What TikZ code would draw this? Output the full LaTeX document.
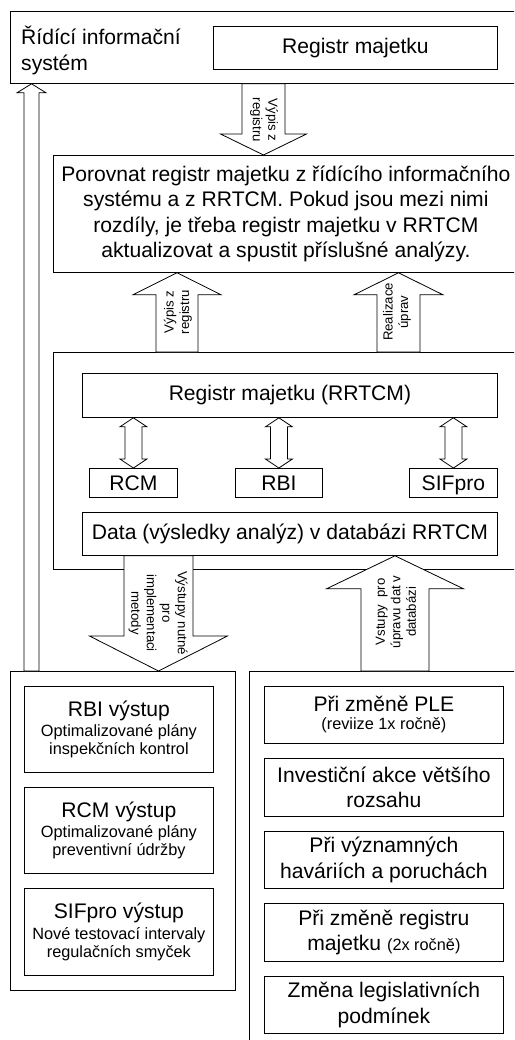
\documentclass[tikz,border=0pt]{standalone}
\usepackage{fontspec}
\setmainfont{Liberation Sans}
\usetikzlibrary{calc}

\newcommand\bigf{\fontsize{21.1}{25.5}\selectfont}
\newcommand\smallf{\fontsize{16.3}{18}\selectfont}
\newcommand\tinyf{\fontsize{13.2}{15.5}\selectfont}

% block arrow: start point, tip point, shaft half width, head half width, head length
\newcommand\blockarrow[5]{%
  \draw[blk] let \p1=(#1), \p2=(#2), \n1={ifthenelse(\y2>\y1,1,-1)} in
    (\x1-#3,\y1) -- (\x1-#3,\y2-\n1*#5) -- (\x1-#4,\y2-\n1*#5) -- (\x1,\y2)
    -- (\x1+#4,\y2-\n1*#5) -- (\x1+#3,\y2-\n1*#5) -- (\x1+#3,\y1) -- cycle;}

% two-headed block arrow: upper point, lower point, shaft half width, head half width, head length
\newcommand\dblarrow[5]{%
  \draw[blk] let \p1=(#1), \p2=(#2) in
    (\x1,\y1) -- (\x1+#4,\y1-#5) -- (\x1+#3,\y1-#5) -- (\x1+#3,\y2+#5)
    -- (\x1+#4,\y2+#5) -- (\x1,\y2) -- (\x1-#4,\y2+#5) -- (\x1-#3,\y2+#5)
    -- (\x1-#3,\y1-#5) -- (\x1-#4,\y1-#5) -- cycle;}

\begin{document}
\begin{tikzpicture}[x=1pt,y=-1pt,
  frame/.style={draw, line width=0.8pt, inner sep=0pt, anchor=north west},
  box/.style={draw, fill=white, line width=0.8pt, inner sep=0pt, anchor=north west, align=center, font=\bigf},
  sbox/.style={box, font=\smallf},
  blk/.style={draw, fill=white, line width=0.8pt, line join=miter},
  lbl/.style={inner sep=0pt, align=center, font=\tinyf}]
\useasboundingbox (0,0) rectangle (514,1040);
\fill[white] (0,0) rectangle (514,1040);
\begin{scope}
\clip (0,0) rectangle (514,1040);

% outer frames
\node[frame, minimum width=530pt, minimum height=72pt] (ris) at (10,11) {};
\node[font=\bigf, align=left, anchor=north west, inner sep=0pt] (risl) at (21,26) {Řídící informační\\systém};
\node[box, minimum width=284pt, minimum height=43pt] (reg) at (213,26) {Registr majetku};

\node[box, minimum width=465pt, minimum height=117pt] (cmp) at (53,155)
  {Porovnat registr majetku z řídícího informačního\\ systému a z RRTCM. Pokud jsou mezi nimi\\ rozdíly, je třeba registr majetku v RRTCM\\ aktualizovat a spustit příslušné analýzy.};

\node[frame, minimum width=490pt, minimum height=217pt] (mid) at (53,352) {};
\node[box, minimum width=415pt, minimum height=44pt] (regr) at (82,373) {Registr majetku (RRTCM)};
\node[box, minimum width=88pt, minimum height=29pt, text depth=0pt] (rcm) at (89,468) {RCM};
\node[box, minimum width=87pt, minimum height=29pt, text depth=0pt] (rbi) at (235,468) {RBI};
\node[box, minimum width=88pt, minimum height=29pt, text depth=0pt] (sif) at (409,468) {SIFpro};
\node[box, minimum width=415pt, minimum height=43pt] (data) at (82,512) {Data (výsledky analýz) v databázi RRTCM};

\node[frame, minimum width=225pt, minimum height=319pt] (outs) at (10,671) {};
\node[frame, minimum width=300pt, minimum height=400pt] (ins) at (249,671) {};

% outputs of the analyses
\node[sbox, minimum width=189pt, minimum height=86pt] (o1) at (24,686)
  {{\bigf RBI výstup}\\[2.7pt] Optimalizované plány\\ inspekčních kontrol};
\node[sbox, minimum width=189pt, minimum height=86pt] (o2) at (24,787)
  {{\bigf RCM výstup}\\[2.7pt] Optimalizované plány\\ preventivní údržby};
\node[sbox, minimum width=189pt, minimum height=87pt] (o3) at (24,888)
  {{\bigf SIFpro výstup}\\[2.7pt] Nové testovací intervaly\\ regulačních smyček};

% triggers for updating the database
\node[sbox, minimum width=239pt, minimum height=57pt] (i1) at (264,686)
  {{\bigf Při změně PLE}\\ (reviize 1x ročně)};
\node[box, minimum width=239pt, minimum height=58pt] (i2) at (264,758)
  {Investiční akce většího\\ rozsahu};
\node[box, minimum width=239pt, minimum height=57pt] (i3) at (264,831)
  {Při významných\\ haváriích a poruchách};
\node[box, minimum width=239pt, minimum height=58pt] (i4) at (264,903)
  {Při změně registru\\ majetku {\smallf (2x ročně)}};
\node[box, minimum width=239pt, minimum height=57pt] (i5) at (264,976)
  {Změna legislativních\\ podmínek};

% arrow axes
\coordinate (axL) at (31.5,0);
\coordinate (axA) at (263.5,0);
\coordinate (axB) at (177,0);
\coordinate (axC) at (398.5,0);
\coordinate (axD) at (158.5,0);
\coordinate (axE) at (395,0);

% block arrows
\blockarrow{axL |- outs.north}{axL |- ris.south}{7.5pt}{14.5pt}{9pt}
\blockarrow{axA |- ris.south}{axA |- cmp.north}{21.5pt}{43pt}{21pt}
\blockarrow{axB |- mid.north}{axB |- cmp.south}{21pt}{44pt}{22pt}
\blockarrow{axC |- mid.north}{axC |- cmp.south}{21.5pt}{44.5pt}{22pt}
\blockarrow{axD |- data.south}{axD |- outs.north}{34.5pt}{69pt}{35pt}
\blockarrow{axE |- ins.north}{axE |- data.south}{34pt}{68.5pt}{33pt}

\dblarrow{rcm.north |- regr.south}{rcm.north}{8.5pt}{13.5pt}{9pt}
\dblarrow{rbi.north |- regr.south}{rbi.north}{8.5pt}{13.5pt}{9pt}
\dblarrow{sif.north |- regr.south}{sif.north}{8.5pt}{13.5pt}{9pt}

% arrow labels
\node[lbl, rotate=-90] (tA) at (264,120) {Výpis z\\registru};
\node[lbl, rotate=90] (tB) at (178,312) {Výpis z\\registru};
\node[lbl, rotate=90] (tC) at (397,312) {Realizace\\úprav};
\node[lbl, rotate=-90] (tD) at (158,613) {Výstupy nutné\\pro\\implementaci\\metody};
\node[lbl, rotate=90] (tE) at (396,612) {Vstupy\ \ pro\\úpravu dat v\\databázi};
\end{scope}
\end{tikzpicture}
\end{document}
